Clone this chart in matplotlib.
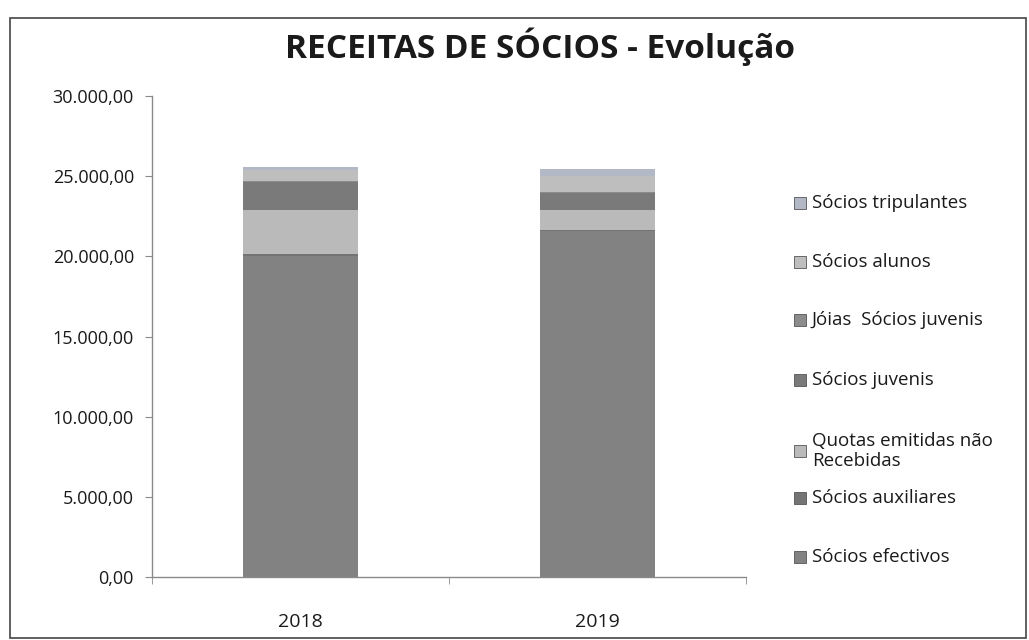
import matplotlib
matplotlib.use("Agg")
import matplotlib.pyplot as plt
from matplotlib.patches import Rectangle
from matplotlib.ticker import FuncFormatter, FixedLocator

plt.rcParams['font.family'] = ['Open Sans', 'DejaVu Sans']

years = ['2018', '2019']
series_names = ['Sócios efectivos', 'Sócios auxiliares', 'Quotas emitidas não\nRecebidas',
                'Sócios juvenis', 'Jóias  Sócios juvenis', 'Sócios alunos', 'Sócios tripulantes']
efectivos = [20000, 21550]
auxiliares = [120, 80]
quotas = [2750, 1250]
juvenis = [1750, 1050]
joias = [100, 60]
alunos = [650, 1000]
tripulantes = [230, 470]
series_values = [efectivos, auxiliares, quotas, juvenis, joias, alunos, tripulantes]
colors = ['#828282', '#747474', '#bababa', '#7a7a7a', '#8c8c8c', '#bebebe', '#b3b8c6']
yticks = [0, 5000, 10000, 15000, 20000, 25000, 30000]

W, H = 1029, 640
fig = plt.figure(figsize=(W / 100, H / 100), dpi=100)
fig.patch.set_facecolor('white')

ax = fig.add_axes([152 / W, 1 - 577 / H, (746 - 152) / W, (577 - 96) / H])
x = list(range(len(years)))
bottom = [0.0] * len(years)
for vals, c in zip(series_values, colors):
    ax.bar(x, vals, width=0.39, bottom=bottom, color=c, edgecolor='none')
    bottom = [b + v for b, v in zip(bottom, vals)]

ax.set_xlim(-0.5, 1.5)
ax.set_ylim(0, 30000)
ax.set_yticks(yticks)
ax.yaxis.set_major_formatter(FuncFormatter(
    lambda v, p: f"{v:,.2f}".replace(',', 'X').replace('.', ',').replace('X', '.')))
ax.set_xticks(x)
ax.set_xticklabels(years)
ax.xaxis.set_minor_locator(FixedLocator([-0.5, 0.5, 1.5]))
ax.tick_params(axis='x', which='major', length=0, pad=26, labelsize=14, colors='#1a1a1a')
ax.tick_params(axis='x', which='minor', length=5, color='#8a8a8a', direction='out')
ax.tick_params(axis='y', length=5, color='#8a8a8a', pad=8, labelsize=13, labelcolor='#1a1a1a')
for s in ['top', 'right']:
    ax.spines[s].set_visible(False)
for s in ['left', 'bottom']:
    ax.spines[s].set_color('#8a8a8a')
    ax.spines[s].set_linewidth(1.0)

fig.text(540 / W, 1 - 47 / H, 'RECEITAS DE SÓCIOS - Evolução', ha='center', va='center',
         fontsize=24, fontweight='bold', color='#1a1a1a')

# legend (manual, top to bottom)
leg_y = [203, 262, 320, 380, 451, 498, 557]
for name, c, yy in zip(series_names[::-1], colors[::-1], leg_y):
    fig.patches.append(Rectangle((794 / W, 1 - (yy + 6) / H), 12 / W, 12 / H,
                                 transform=fig.transFigure, facecolor=c,
                                 edgecolor='#555555', linewidth=0.6))
    fig.text(812 / W, 1 - yy / H, name, ha='left', va='center', fontsize=13.5,
             color='#1a1a1a', linespacing=1.2)

# chart border
fig.patches.append(Rectangle((10 / W, 2 / H), (1026 - 10) / W, (638 - 18) / H,
                             transform=fig.transFigure, facecolor='none',
                             edgecolor='#444444', linewidth=1.2))

fig.savefig('out.png', dpi=100, facecolor='white')
